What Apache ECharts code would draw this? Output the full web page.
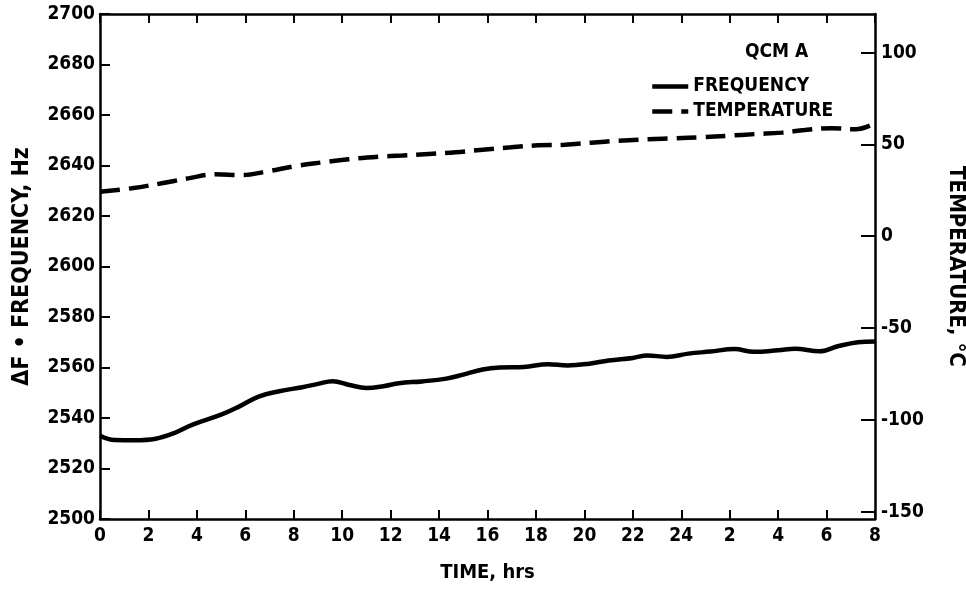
<!DOCTYPE html>
<html>
<head>
<meta charset="utf-8">
<script src="https://cdn.jsdelivr.net/npm/echarts@6/dist/echarts.min.js"></script>
<style>
html,body{margin:0;padding:0;background:#fff;}
#chart{width:966px;height:592px;}
</style>
</head>
<body>
<div id="chart"></div>
<script>
// ---- data ----
const xTickValues = [0,2,4,6,8,10,12,14,16,18,20,22,24,26,28,30,32];
const xTickLabels = ['0','2','4','6','8','10','12','14','16','18','20','22','24','2','4','6','8'];
const tempTicks = [-150,-100,-50,0,50,100];

const freqHours = [0,0.6,1.45,2.3,3.0,3.8,5.0,5.7,6.55,7.4,8.35,9.0,9.6,10.3,11.0,11.7,12.35,13.3,14.3,15.0,15.8,16.5,17.5,18.5,19.3,20.2,21.0,22.0,22.6,23.4,24.3,25.2,26.2,27.0,28.0,28.7,29.7,30.5,31.3,32.0];
const freqValues = [2533,2531.3,2531.2,2531.8,2533.8,2537.3,2541.3,2544.3,2548.5,2550.6,2552.2,2553.5,2554.6,2553.1,2551.9,2552.6,2553.8,2554.5,2555.6,2557.2,2559.2,2560,2560.2,2561.3,2560.8,2561.5,2562.8,2563.8,2564.8,2564.2,2565.5,2566.3,2567.3,2566.2,2566.8,2567.4,2566.4,2568.5,2570.0,2570.3];

const tempHours = [0,1.31,2.55,3.64,4.76,5.87,6.83,8.07,9.18,10.26,11.51,12.49,13.58,14.69,15.8,16.97,18.07,19.18,20.28,21.39,22.63,23.73,24.83,25.94,27.04,28.15,29.1,30.2,31.2,31.94];
const tempValues = [24.2,26.1,28.8,31.5,33.7,33.3,35.1,38.2,40.2,41.9,43.3,44.0,44.8,45.7,47.1,48.4,49.5,49.8,50.9,52.0,52.8,53.3,53.9,54.7,55.6,56.4,57.8,58.8,58.2,61.1];

const seriesNames = ['FREQUENCY','TEMPERATURE'];
const legendTitle = 'QCM A';
const xTitle = 'TIME, hrs';
const yLeftTitle = 'ΔF • FREQUENCY, Hz';
const yRightTitle = 'TEMPERATURE, °C';

const FONT = '"DejaVu Sans Condensed","Liberation Sans Narrow","DejaVu Sans",sans-serif';
const pairs = (xs, ys) => xs.map((x, i) => [x, ys[i]]);

const chart = echarts.init(document.getElementById('chart'), null, {renderer:'canvas'});
const axisLineStyle = {color:'#000', width:2.5};
const labelStyle = {color:'#000', fontFamily:FONT, fontWeight:'bold', fontSize:19};
const tickStyle = {color:'#000', width:2};

chart.setOption({
  backgroundColor:'#fff',
  animation:false,
  grid:{left:100, right:91, top:14, bottom:73, containLabel:false, outerBoundsMode:'none'},
  title:{text:legendTitle, left:740, top:38, textStyle:{color:'#000', fontFamily:FONT, fontWeight:'bold', fontSize:19}},
  legend:{
    data:seriesNames, orient:'vertical', left:645, top:72, itemGap:6,
    itemWidth:36, itemHeight:14,
    itemStyle:{opacity:0},
    lineStyle:{width:4.5},
    textStyle:{color:'#000', fontFamily:FONT, fontWeight:'bold', fontSize:19}
  },
  xAxis:[{
    type:'value', min:0, max:32, interval:2, position:'bottom',
    name:xTitle, nameLocation:'middle', nameGap:44,
    nameTextStyle:{color:'#000', fontFamily:FONT, fontWeight:'bold', fontSize:20},
    axisLine:{show:true, onZero:false, lineStyle:axisLineStyle},
    axisTick:{show:true, inside:true, length:9, lineStyle:tickStyle},
    axisLabel:Object.assign({margin:8, formatter:(v)=>{const i=xTickValues.indexOf(v);return i>=0?xTickLabels[i]:'';}}, labelStyle),
    splitLine:{show:false}
  },{
    type:'value', min:0, max:32, interval:2, position:'top',
    axisLine:{show:true, onZero:false, lineStyle:axisLineStyle},
    axisTick:{show:true, inside:true, length:9, lineStyle:tickStyle},
    axisLabel:{show:false}, splitLine:{show:false}
  }],
  yAxis:[{
    type:'value', min:2500, max:2700, interval:20, position:'left',
    name:yLeftTitle, nameLocation:'middle', nameGap:66, nameRotate:90,
    nameTextStyle:{color:'#000', fontFamily:FONT, fontWeight:'bold', fontSize:23},
    axisLine:{show:true, onZero:false, lineStyle:axisLineStyle},
    axisTick:{show:true, inside:true, length:10, lineStyle:tickStyle},
    axisLabel:Object.assign({margin:5, formatter:(v)=>String(v)}, labelStyle),
    splitLine:{show:false}
  },{
    type:'value', min:-154, max:121, position:'right',
    name:yRightTitle, nameLocation:'middle', nameGap:70, nameRotate:-90,
    nameTextStyle:{color:'#000', fontFamily:FONT, fontWeight:'bold', fontSize:22},
    axisLine:{show:true, onZero:false, lineStyle:axisLineStyle},
    axisTick:{show:true, inside:true, length:14, customValues:tempTicks, lineStyle:tickStyle},
    axisLabel:Object.assign({margin:6, customValues:tempTicks, formatter:(v)=>String(v)}, labelStyle),
    splitLine:{show:false}
  }],
  series:[{
    name:seriesNames[0], type:'line', xAxisIndex:0, yAxisIndex:0,
    data:pairs(freqHours, freqValues), smooth:0.4, showSymbol:false, symbol:'none',
    lineStyle:{color:'#000', width:4.5}, itemStyle:{color:'#000'}
  },{
    name:seriesNames[1], type:'line', xAxisIndex:0, yAxisIndex:1,
    data:pairs(tempHours, tempValues), smooth:0.4, showSymbol:false, symbol:'none',
    lineStyle:{color:'#000', width:4.5, type:[20,9]}, itemStyle:{color:'#000'}
  }]
});
</script>
</body>
</html>
